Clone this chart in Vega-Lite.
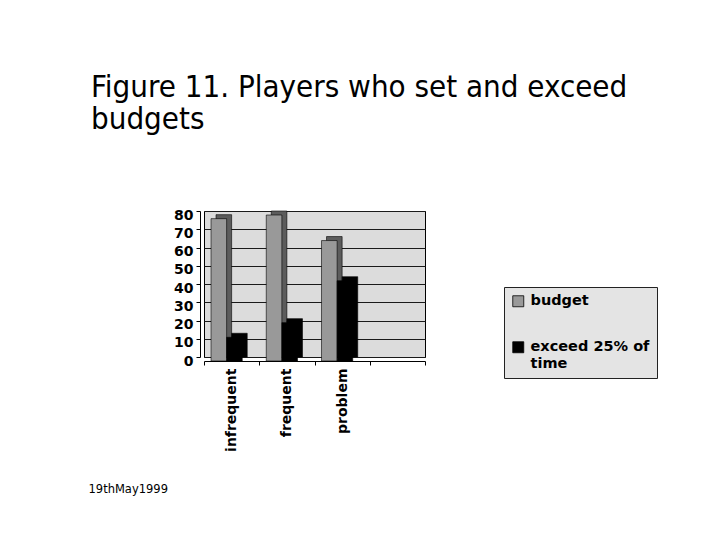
{
  "$schema": "https://vega.github.io/schema/vega-lite/v6.json",
  "autosize": "none",
  "width": 221,
  "height": 146,
  "padding": {"left": 204, "top": 211, "right": 291, "bottom": 188},
  "background": "#ffffff",
  "title": {
    "text": ["Figure 11. Players who set and exceed", "budgets"],
    "anchor": "start",
    "frame": "group",
    "dx": -113,
    "offset": 72,
    "font": "DejaVu Sans Condensed",
    "fontSize": 31,
    "fontWeight": "normal",
    "color": "#000000",
    "lineHeight": 32
  },
  "data": {
    "values": [
      {"group": "infrequent", "series": "budget", "value": 78},
      {"group": "infrequent", "series": "exceed 25% of time", "value": 13},
      {"group": "frequent", "series": "budget", "value": 80},
      {"group": "frequent", "series": "exceed 25% of time", "value": 21},
      {"group": "problem", "series": "budget", "value": 66},
      {"group": "problem", "series": "exceed 25% of time", "value": 44}
    ]
  },
  "encoding": {
    "y": {
      "field": "value",
      "type": "quantitative",
      "scale": {"domain": [0, 80], "nice": false},
      "axis": {
        "title": null,
        "values": [0, 10, 20, 30, 40, 50, 60, 70, 80],
        "labelOverlap": false,
        "grid": true,
        "gridColor": "#1a1a1a",
        "gridWidth": 1,
        "domainColor": "#000000",
        "offset": 4,
        "tickSize": 4,
        "tickColor": "#000000",
        "labelOffset": 4,
        "labelPadding": 3,
        "labelFont": "DejaVu Sans",
        "labelFontWeight": "bold",
        "labelFontSize": 14,
        "labelColor": "#000000"
      }
    }
  },
  "layer": [
    {
      "description": "depth (back face) of the budget columns",
      "transform": [{"filter": "datum.series === 'budget'"}],
      "mark": {"type": "bar", "width": 15.6, "xOffset": -7.8, "color": "#5c5c5c", "stroke": "#000000", "strokeWidth": 0.6},
      "encoding": {
        "x": {
          "field": "group",
          "type": "nominal",
          "scale": {"domain": ["infrequent", "frequent", "problem", " "], "paddingInner": 0, "paddingOuter": 0},
          "axis": {
            "title": "19thMay1999",
            "titleX": -116,
            "titleY": 131,
            "titleAlign": "left",
            "titleAnchor": "start",
            "titleBaseline": "alphabetic",
            "titleFont": "DejaVu Sans",
            "titleFontSize": 11.5,
            "titleFontWeight": "normal",
            "titleColor": "#000000",
            "offset": 4,
            "tickBand": "extent",
            "tickOffset": -4,
            "tickSize": 4,
            "tickColor": "#000000",
            "domainColor": "#000000",
            "labelAngle": -90,
            "labelPadding": 3,
            "labelFont": "DejaVu Sans",
            "labelFontWeight": "bold",
            "labelFontSize": 14,
            "labelColor": "#000000",
            "grid": false
          }
        }
      }
    },
    {
      "description": "depth (back face) of the exceed columns",
      "transform": [{"filter": "datum.series !== 'budget'"}],
      "mark": {"type": "bar", "width": 15.6, "xOffset": 7.8, "color": "#000000", "stroke": "#000000", "strokeWidth": 0.6},
      "encoding": {
        "x": {"field": "group", "type": "nominal"}
      }
    },
    {
      "description": "floor of the 3D plot",
      "data": {"values": [{}]},
      "mark": {"type": "rule", "color": "#666666", "strokeWidth": 3, "yOffset": 2, "xOffset": -2},
      "encoding": {
        "y": {"datum": 0, "type": "quantitative"}
      }
    },
    {
      "description": "front face of the budget columns",
      "transform": [{"filter": "datum.series === 'budget'"}],
      "mark": {"type": "bar", "width": 15.6, "xOffset": -12.8, "yOffset": 4, "stroke": "#000000", "strokeWidth": 0.6},
      "encoding": {
        "x": {"field": "group", "type": "nominal"},
        "color": {
          "field": "series",
          "type": "nominal",
          "scale": {"domain": ["budget", "exceed 25% of time"], "range": ["#999999", "#000000"]},
          "legend": {
            "title": null,
            "orient": "none",
            "legendX": 300,
            "legendY": 76,
            "direction": "vertical",
            "fillColor": "#e4e4e4",
            "strokeColor": "#222222",
            "padding": 7,
            "symbolType": "square",
            "symbolSize": 121,
            "symbolStrokeColor": "#000000",
            "symbolStrokeWidth": 0.8,
            "labelFont": "DejaVu Sans",
            "labelFontWeight": "bold",
            "labelFontSize": 14.5,
            "labelColor": "#000000",
            "labelOffset": 5,
            "labelLimit": 300,
            "rowPadding": 30,
            "labelExpr": "datum.label === 'exceed 25% of time' ? ['exceed 25% of', 'time'] : datum.label"
          }
        }
      }
    },
    {
      "description": "front face of the exceed columns",
      "transform": [{"filter": "datum.series !== 'budget'"}],
      "mark": {"type": "bar", "width": 15.6, "xOffset": 2.8, "yOffset": 4, "stroke": "#000000", "strokeWidth": 0.6},
      "encoding": {
        "x": {"field": "group", "type": "nominal"},
        "color": {"field": "series", "type": "nominal"}
      }
    }
  ],
  "config": {
    "view": {"fill": "#dcdcdc", "stroke": "#000000", "strokeWidth": 1}
  }
}
